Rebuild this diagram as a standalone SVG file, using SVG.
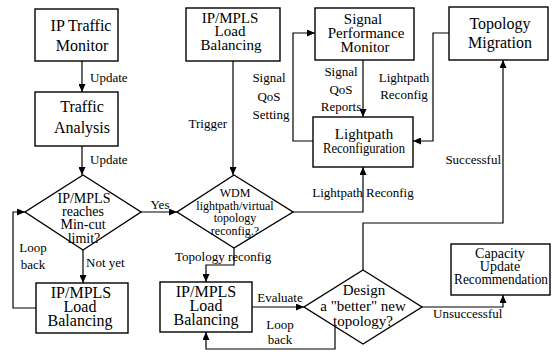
<svg xmlns="http://www.w3.org/2000/svg" width="552" height="352" viewBox="0 0 552 352">
<defs>
<marker id="ah" markerUnits="userSpaceOnUse" markerWidth="8" markerHeight="7" refX="8" refY="3.5" orient="auto">
<path d="M0,0 L8,3.5 L0,7 z" fill="#000"/>
</marker>
<style>
.box{fill:#fff;stroke:#000;stroke-width:1.4}
.t{fill:#000;text-anchor:middle}
.lb{fill:#000;font-size:13px}
.c{fill:none;stroke:#000;stroke-width:1.2;marker-end:url(#ah)}
</style>
</defs>
<rect width="552" height="352" fill="#fff"/>

<g id="connectors">
<path class="c" d="M82,61 V92"/>
<path class="c" d="M82,146 V175"/>
<path class="c" d="M233,61 V175"/>
<path class="c" d="M141,212 H177"/>
<path class="c" d="M83,250 V283"/>
<path class="c" d="M36,308 H13 V212 H25"/>
<path class="c" d="M234,248 V265 H206 V282"/>
<path class="c" d="M293,212 H363 V167"/>
<path class="c" d="M363,60 V117"/>
<path class="c" d="M313,141 H293 V33 H315"/>
<path class="c" d="M449,33 H433 V141 H413"/>
<path class="c" d="M252,307 H304"/>
<path class="c" d="M335,326 V349 H206 V332"/>
<path class="c" d="M363,270 V223 H503 V60"/>
<path class="c" d="M422,307 H503 V295"/>
</g>

<g font-family="Liberation Serif, Times New Roman, serif">
<g id="ip-traffic-monitor">
<rect class="box" x="35" y="9" width="83" height="52"/>
<text class="t" x="81" y="31" font-size="16">IP Traffic</text>
<text class="t" x="82" y="51" font-size="16">Monitor</text>
</g>

<g id="traffic-analysis">
<rect class="box" x="35" y="92" width="83" height="54"/>
<text class="t" x="82" y="112" font-size="16">Traffic</text>
<text class="t" x="82" y="133" font-size="16">Analysis</text>
</g>

<g id="lb-top">
<rect class="box" x="186" y="8" width="94" height="53"/>
<text class="t" x="230" y="23" font-size="15">IP/MPLS</text>
<text class="t" x="230" y="36" font-size="15">Load</text>
<text class="t" x="231" y="50" font-size="15">Balancing</text>
</g>

<g id="signal-performance-monitor">
<rect class="box" x="315" y="8" width="99" height="52"/>
<text class="t" x="363" y="24" font-size="15">Signal</text>
<text class="t" x="366" y="38" font-size="15">Performance</text>
<text class="t" x="365" y="52" font-size="15">Monitor</text>
</g>

<g id="topology-migration">
<rect class="box" x="449" y="7" width="99" height="53"/>
<text class="t" x="500" y="29" font-size="16">Topology</text>
<text class="t" x="500" y="48" font-size="16">Migration</text>
</g>

<g id="lightpath-reconfiguration">
<rect class="box" x="313" y="117" width="100" height="50"/>
<text class="t" x="364" y="139" font-size="15">Lightpath</text>
<text class="t" x="364" y="153" font-size="15" textLength="82" lengthAdjust="spacingAndGlyphs">Reconfiguration</text>
</g>

<g id="decision-mincut">
<path class="box" d="M83,175 L141,212 L83,250 L25,212 Z"/>
<text class="t" x="84" y="203" font-size="14">IP/MPLS</text>
<text class="t" x="83" y="216" font-size="14">reaches</text>
<text class="t" x="83" y="229" font-size="14">Min-cut</text>
<text class="t" x="84" y="243" font-size="14">limit?</text>
</g>

<g id="decision-wdm">
<path class="box" d="M234,175 L293,212 L234,248 L177,212 Z"/>
<text class="t" x="235" y="197" font-size="12">WDM</text>
<text class="t" x="235" y="210" font-size="12">lightpath/virtual</text>
<text class="t" x="235" y="222" font-size="12">topology</text>
<text class="t" x="235" y="235" font-size="12">reconfig.?</text>
</g>

<g id="lb-left">
<rect class="box" x="36" y="283" width="92" height="50"/>
<text class="t" x="81" y="298" font-size="16">IP/MPLS</text>
<text class="t" x="80" y="312" font-size="16">Load</text>
<text class="t" x="80" y="326" font-size="16">Balancing</text>
</g>

<g id="lb-middle">
<rect class="box" x="160" y="282" width="92" height="50"/>
<text class="t" x="206" y="297" font-size="16">IP/MPLS</text>
<text class="t" x="206" y="311" font-size="16">Load</text>
<text class="t" x="206" y="325" font-size="16">Balancing</text>
</g>

<g id="decision-design">
<path class="box" d="M363,270 L422,307 L363,344 L304,307 Z"/>
<text class="t" x="364" y="295" font-size="15">Design</text>
<text class="t" x="363" y="311" font-size="15">a "better" new</text>
<text class="t" x="363" y="326" font-size="15">topology?</text>
</g>

<g id="capacity-update">
<rect class="box" x="451" y="244" width="99" height="51"/>
<text class="t" x="500" y="258" font-size="14">Capacity</text>
<text class="t" x="500" y="271" font-size="14">Update</text>
<text class="t" x="501" y="284" font-size="14" textLength="94" lengthAdjust="spacingAndGlyphs">Recommendation</text>
</g>

<g id="labels">
<text class="lb" x="90" y="82">Update</text>
<text class="lb" x="90" y="164">Update</text>
<text class="lb" x="227" y="128" text-anchor="end">Trigger</text>
<text class="lb" x="269" y="82" text-anchor="middle">Signal</text>
<text class="lb" x="269" y="101" text-anchor="middle">QoS</text>
<text class="lb" x="271" y="119" text-anchor="middle">Setting</text>
<text class="lb" x="341" y="76" text-anchor="middle">Signal</text>
<text class="lb" x="341" y="94" text-anchor="middle">QoS</text>
<text class="lb" x="341" y="111" text-anchor="middle">Reports</text>
<text class="lb" x="404" y="82" text-anchor="middle">Lightpath</text>
<text class="lb" x="404" y="99" text-anchor="middle" font-size="12">Reconfig</text>
<text class="lb" x="501" y="164" text-anchor="end">Successful</text>
<text class="lb" x="160" y="209" text-anchor="middle">Yes</text>
<text class="lb" x="363" y="197" text-anchor="middle">Lightpath Reconfig</text>
<text class="lb" x="33" y="252" text-anchor="middle">Loop</text>
<text class="lb" x="33" y="269" text-anchor="middle">back</text>
<text class="lb" x="86" y="267">Not yet</text>
<text class="lb" x="175" y="261">Topology reconfig</text>
<text class="lb" x="280" y="302" text-anchor="middle">Evaluate</text>
<text class="lb" x="280" y="329" text-anchor="middle">Loop</text>
<text class="lb" x="280" y="344" text-anchor="middle">back</text>
<text class="lb" x="433" y="318">Unsuccessful</text>
</g>
</g>
</svg>
